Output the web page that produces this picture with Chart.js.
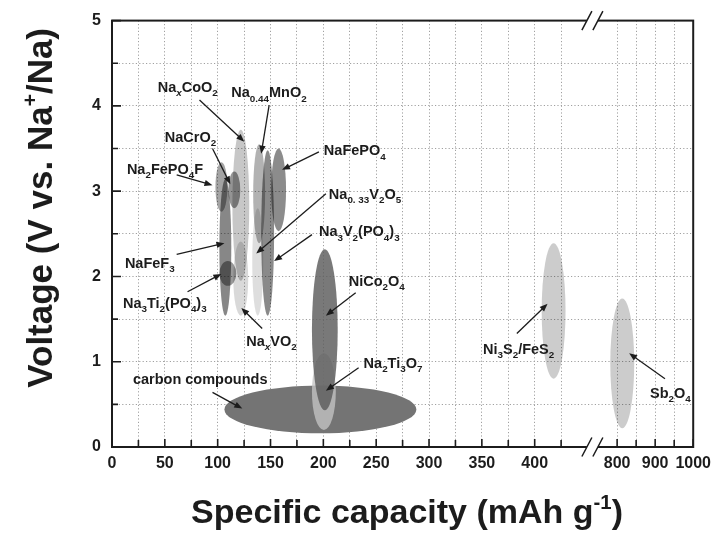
<!DOCTYPE html>
<html><head><meta charset="utf-8">
<script src="https://cdn.jsdelivr.net/npm/chart.js@4.4.1/dist/chart.umd.min.js"></script>
<style>html,body{margin:0;padding:0;background:#fff;}#wrap{width:718px;height:547px;}</style>
</head><body><div id="wrap"><canvas id="c" width="718" height="547"></canvas></div>
<script>
// ---------- data (capacity in mAh g-1, voltage in V vs Na+/Na) ----------
const materials = ["NaxCoO2","NaxVO2","Na2FePO4F","NaFeF3","NaCrO2","Na3Ti2(PO4)3","Na0.33V2O5","Na0.44MnO2","Na3V2(PO4)3","NaFePO4","carbon compounds","Na2Ti3O7","NiCo2O4","Ni3S2/FeS2","Sb2O4"];
const capacityMin = [113.9,114.8, 97.9,101.6,110.1,101.6,132.7,133.6,141.2,150.6,106.4,189.2,189.2,406.6,782];
const capacityMax = [129.9,128.9,109.2,112.9,121.4,117.6,143.1,144.9,153.4,164.7,288.0,211.8,213.6,429.2,845];
const voltageMin  = [1.95,1.54,2.76,1.54,2.80,1.89,1.54,2.39,1.54,2.53,0.16,0.20,0.43,0.80,0.22];
const voltageMax  = [3.72,2.41,3.34,3.14,3.23,2.18,2.80,3.55,3.48,3.50,0.72,1.10,2.32,2.39,1.74];

const xTickValues = [0,25,50,75,100,125,150,175,200,225,250,275,300,325,350,375,400,425,800,850,900,950,1000];
const xTickLabels = ["0","","50","","100","","150","","200","","250","","300","","350","","400","","800","","900","","1000"];
const yTickValues = [0,0.5,1,1.5,2,2.5,3,3.5,4,4.5,5];
const yTickLabels = ["0","","1","","2","","3","","4","","5"];

// ---------- styles ----------
const shades = ["rgba(0,0,0,0.22)","rgba(0,0,0,0.15)","rgba(0,0,0,0.36)","rgba(0,0,0,0.47)","rgba(0,0,0,0.42)","rgba(0,0,0,0.4)",
  "rgba(0,0,0,0.13)","rgba(0,0,0,0.3)","rgba(0,0,0,0.46)","rgba(0,0,0,0.45)","rgba(116,116,116,1)","rgba(196,196,196,0.78)",
  "rgba(92,92,92,0.82)","rgba(0,0,0,0.2)","rgba(0,0,0,0.2)"];
const FONT = "'Liberation Sans', Arial, sans-serif";
const INK = "#1c1c1c";

// broken capacity axis: 0-425 linear, then 800-1000 compressed
const SEG2_START = 478, SEG2_SCALE = 0.36, BREAK_AT = 454.6;
function toAxis(c){ return c < 600 ? c : SEG2_START + (c - 800) * SEG2_SCALE; }

// annotations: label text runs, label anchor (capacity, voltage), arrow from -> to
const notes = [
  {t:[["Na"],["x","isub"],["CoO"],["2","sub"]], at:[43.3,4.22], from:[82.8,4.07], to:[125.2,3.58]},
  {t:[["Na"],["0.44","sub"],["MnO"],["2","sub"]], at:[112.9,4.16], from:[148.7,4.01], to:[141.2,3.44]},
  {t:[["NaCrO"],["2","sub"]], at:[49.9,3.64], from:[95.1,3.50], to:[112.0,3.08]},
  {t:[["Na"],["2","sub"],["FePO"],["4","sub"],["F"]], at:[14.1,3.26], from:[61.2,3.19], to:[95.1,3.07]},
  {t:[["NaFePO"],["4","sub"]], at:[200.5,3.48], from:[195.8,3.46], to:[160.9,3.25]},
  {t:[["Na"],["0. 33","sub"],["V"],["2","sub"],["O"],["5","sub"]], at:[205.2,2.97], from:[202.4,2.97], to:[136.5,2.27]},
  {t:[["Na"],["3","sub"],["V"],["2","sub"],["(PO"],["4","sub"],[")"],["3","sub"]], at:[195.8,2.53], from:[189.2,2.49], to:[153.4,2.18]},
  {t:[["NaFeF"],["3","sub"]], at:[12.2,2.16], from:[61.2,2.26], to:[106.4,2.39]},
  {t:[["Na"],["3","sub"],["Ti"],["2","sub"],["(PO"],["4","sub"],[")"],["3","sub"]], at:[10.4,1.69], from:[71.5,1.82], to:[103.5,2.03]},
  {t:[["Na"],["x","isub"],["VO"],["2","sub"]], at:[127.1,1.25], from:[142.1,1.39], to:[122.4,1.63]},
  {t:[["NiCo"],["2","sub"],["O"],["4","sub"]], at:[224,1.95], from:[230.6,1.81], to:[202.4,1.54]},
  {t:[["Na"],["2","sub"],["Ti"],["3","sub"],["O"],["7","sub"]], at:[238.1,0.99], from:[233.4,0.93], to:[202.4,0.66]},
  {t:[["carbon compounds"]], at:[19.8,0.80], from:[95.1,0.64], to:[123.3,0.45]},
  {t:[["Ni"],["3","sub"],["S"],["2","sub"],["/FeS"],["2","sub"]], at:[351.1,1.15], from:[383.1,1.33], to:[412.2,1.68]},
  {t:[["Sb"],["2","sub"],["O"],["4","sub"]], at:[886.6,0.64], from:[925.8,0.80], to:[831.7,1.10]}
];

function runFont(mode, size){
  let s = size, it = "";
  if (mode === "sub" || mode === "isub") s = size*0.68;
  if (mode === "sup") s = size*0.6;
  if (mode === "isub") it = "italic ";
  return {s, font: it + "bold " + s + "px " + FONT};
}
function drawRich(ctx, runs, x, yb, size){
  let cx = x;
  for (const r of runs){
    const mode = r[1] || "";
    const f = runFont(mode, size);
    let dy = 0;
    if (mode === "sub" || mode === "isub") dy = size*0.28;
    if (mode === "sup") dy = -size*0.42;
    ctx.font = f.font;
    ctx.fillText(r[0], cx, yb + dy);
    cx += ctx.measureText(r[0]).width;
  }
  return cx - x;
}
function richWidth(ctx, runs, size){
  let w = 0;
  for (const r of runs){
    ctx.font = runFont(r[1] || "", size).font;
    w += ctx.measureText(r[0]).width;
  }
  return w;
}

const ellipsePlugin = {
  id: "ellipses",
  beforeDatasetsDraw(chart){
    const {ctx, chartArea:a, scales:{x, y}} = chart;
    ctx.save();
    ctx.beginPath(); ctx.rect(a.left, a.top, a.width, a.height); ctx.clip();
    for (let i = 0; i < materials.length; i++){
      const x1 = x.getPixelForValue(toAxis(capacityMin[i])), x2 = x.getPixelForValue(toAxis(capacityMax[i]));
      const y1 = y.getPixelForValue(voltageMax[i]), y2 = y.getPixelForValue(voltageMin[i]);
      ctx.beginPath();
      ctx.ellipse((x1+x2)/2, (y1+y2)/2, Math.abs(x2-x1)/2, Math.abs(y2-y1)/2, 0, 0, Math.PI*2);
      ctx.fillStyle = shades[i];
      ctx.fill();
    }
    ctx.restore();
  },
  afterDatasetsDraw(chart){
    const {ctx, scales:{x, y}} = chart;
    ctx.save();
    ctx.fillStyle = INK; ctx.strokeStyle = INK; ctx.textBaseline = "alphabetic"; ctx.textAlign = "left";
    const size = 14.5;
    for (const n of notes){
      const px = x.getPixelForValue(toAxis(n.at[0])), py = y.getPixelForValue(n.at[1]);
      drawRich(ctx, n.t, px, py + size*0.36, size);
      const fx = x.getPixelForValue(toAxis(n.from[0])), fy = y.getPixelForValue(n.from[1]);
      const tx = x.getPixelForValue(toAxis(n.to[0])), ty = y.getPixelForValue(n.to[1]);
      const ang = Math.atan2(ty-fy, tx-fx), L = 8, W = 3.2;
      ctx.lineWidth = 1.3;
      ctx.beginPath(); ctx.moveTo(fx, fy); ctx.lineTo(tx - Math.cos(ang)*L*0.8, ty - Math.sin(ang)*L*0.8); ctx.stroke();
      ctx.beginPath();
      ctx.moveTo(tx, ty);
      ctx.lineTo(tx - Math.cos(ang)*L - Math.sin(ang)*W, ty - Math.sin(ang)*L + Math.cos(ang)*W);
      ctx.lineTo(tx - Math.cos(ang)*L + Math.sin(ang)*W, ty - Math.sin(ang)*L - Math.cos(ang)*W);
      ctx.closePath(); ctx.fill();
    }
    ctx.restore();
  }
};

const framePlugin = {
  id: "frame",
  afterDraw(chart){
    const {ctx, chartArea:a, scales:{x, y}} = chart;
    ctx.save();
    ctx.strokeStyle = INK; ctx.lineWidth = 2;
    ctx.strokeRect(a.left, a.top, a.width, a.height);
    // inward ticks
    ctx.lineWidth = 1.6;
    ctx.beginPath();
    xTickValues.forEach((v, i) => {
      const px = x.getPixelForValue(toAxis(v));
      const len = xTickLabels[i] ? 8 : 7;
      ctx.moveTo(px, a.bottom); ctx.lineTo(px, a.bottom - len);
    });
    yTickValues.forEach((v, i) => {
      const py = y.getPixelForValue(v);
      const len = yTickLabels[i] ? 9 : 6;
      ctx.moveTo(a.left, py); ctx.lineTo(a.left + len, py);
    });
    ctx.stroke();
    // axis break marks
    const bx = x.getPixelForValue(BREAK_AT);
    for (const by of [a.top, a.bottom]){
      ctx.fillStyle = "#fff";
      ctx.fillRect(bx - 5.5, by - 2, 11, 4);
      ctx.lineWidth = 1.5;
      ctx.beginPath();
      for (const d of [-5.5, 5.5]){
        ctx.moveTo(bx + d - 5, by + 9.5); ctx.lineTo(bx + d + 5, by - 9.5);
      }
      ctx.stroke();
    }
    // axis titles
    ctx.fillStyle = INK;
    ctx.textBaseline = "alphabetic"; ctx.textAlign = "left";
    const ts = 34;
    const xt = [["Specific capacity (mAh g"],["-1","sup"],[")"]];
    const xw = richWidth(ctx, xt, ts);
    drawRich(ctx, xt, 407 - xw/2, 523, ts);
    const yt = [["Voltage (V vs. Na"],["+","sup"],["/Na)"]];
    const yw = richWidth(ctx, yt, ts);
    ctx.translate(52, 213); ctx.rotate(-Math.PI/2);
    drawRich(ctx, yt, -yw/2, 0, 35);
    ctx.restore();
  }
};

const tickFont = {family: FONT, size: 16, weight: "bold"};
new Chart(document.getElementById("c"), {
  type: "scatter",
  data: { datasets: [{ label: "centres", pointRadius: 0,
    data: materials.map((m, i) => ({x: toAxis((capacityMin[i]+capacityMax[i])/2), y: (voltageMin[i]+voltageMax[i])/2})) }] },
  options: {
    responsive: false, animation: false, devicePixelRatio: 1,
    layout: { padding: {left: 0, right: 21, top: 18, bottom: 0} },
    plugins: { legend: {display: false}, tooltip: {enabled: false} },
    scales: {
      x: { type: "linear", min: 0, max: toAxis(1000),
        afterBuildTicks: s => { s.ticks = xTickValues.map(v => ({value: toAxis(v)})); },
        afterFit: s => { s.height = 100; },
        ticks: { autoSkip: false, maxRotation: 0, minRotation: 0, padding: 7, font: tickFont, color: INK,
          callback: (v, i) => xTickLabels[i] },
        grid: { color: "#a0a0a0", lineWidth: 1, drawTicks: false },
        border: { display: false, dash: [1.2, 2.2] } },
      y: { type: "linear", min: 0, max: 5,
        afterBuildTicks: s => { s.ticks = yTickValues.map(v => ({value: v})); },
        afterFit: s => { s.width = 112; },
        ticks: { autoSkip: false, padding: 11, font: tickFont, color: INK,
          callback: (v, i) => yTickLabels[i] },
        grid: { color: "#a0a0a0", lineWidth: 1, drawTicks: false },
        border: { display: false, dash: [1.2, 2.2] } }
    }
  },
  plugins: [ellipsePlugin, framePlugin]
});
</script></body></html>
